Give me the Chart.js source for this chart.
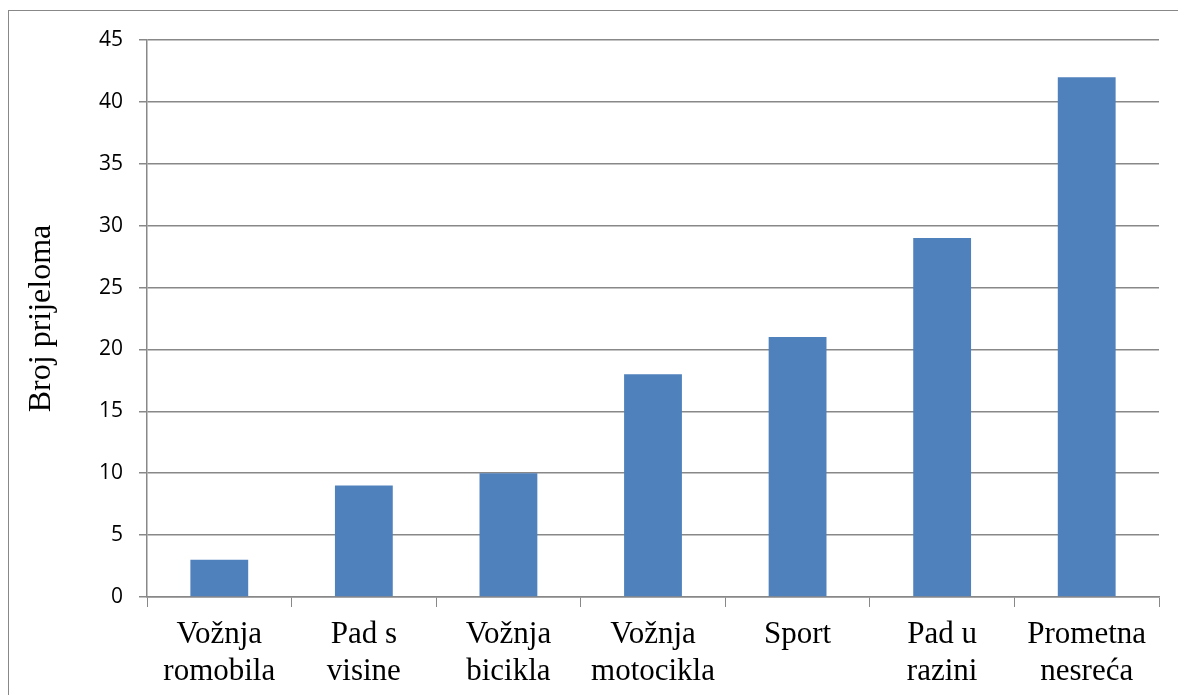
<!DOCTYPE html>
<html>
<head>
<meta charset="utf-8">
<script src="https://cdn.jsdelivr.net/npm/chart.js@4.4.1/dist/chart.umd.min.js"></script>
<style>
  html, body { margin: 0; padding: 0; background: #fff; }
  #wrap { position: relative; width: 1178px; height: 695px; overflow: hidden; }
  #frame { position: absolute; left: 8px; top: 10px; width: 1200px; height: 720px; border: 1px solid #888; }
  canvas { position: absolute; left: 0; top: 0; }
</style>
</head>
<body>
<div id="wrap">
  <div id="frame"></div>
  <canvas id="myGraph" width="1178" height="695"></canvas>
</div>
<script>
var categories = [
  ["Vožnja", "romobila"],
  ["Pad s", "visine"],
  ["Vožnja", "bicikla"],
  ["Vožnja", "motocikla"],
  ["Sport"],
  ["Pad u", "razini"],
  ["Prometna", "nesreća"]
];
var fractures = [3, 9, 10, 18, 21, 29, 42];
var yTicks = [0, 5, 10, 15, 20, 25, 30, 35, 40, 45];

document.addEventListener("DOMContentLoaded", function(){
  makeChart();
});

function makeChart(){
  let target = document.getElementById("myGraph");
  new Chart(target, {
    type: "bar",
    data: {
      labels: categories,
      datasets: [{
        data: fractures,
        backgroundColor: "#4F81BD",
        categoryPercentage: 1,
        barPercentage: 0.4
      }]
    },
    options: {
      responsive: false,
      animation: false,
      layout: { padding: { top: 40, right: 19, left: 22, bottom: 0 } },
      plugins: {
        legend: { display: false },
        tooltip: { enabled: false }
      },
      scales: {
        x: {
          grid: {
            offset: true,
            drawOnChartArea: false,
            color: "#888",
            tickLength: 10
          },
          border: { color: "#888", width: 1.5 },
          ticks: {
            color: "#000",
            font: { family: "Liberation Serif", size: 31, lineHeight: 1.2 },
            padding: 9,
            maxRotation: 0
          },
          afterFit: function(s){ s.height = 98; }
        },
        y: {
          min: 0,
          max: 45,
          afterBuildTicks: function(s){ s.ticks = yTicks.map(v => ({ value: v })); },
          grid: { color: "#888", lineWidth: 1.5, tickLength: 8 },
          border: { color: "#888", width: 1.5 },
          ticks: {
            color: "#000",
            font: { family: "Open Sans", size: 21 },
            padding: 16
          },
          title: {
            display: true,
            text: "Broj prijeloma",
            color: "#000",
            font: { family: "Liberation Serif", size: 32, weight: "normal" },
            padding: 0
          },
          afterFit: function(s){ s.width = 125; }
        }
      }
    }
  });
}
</script>
</body>
</html>
